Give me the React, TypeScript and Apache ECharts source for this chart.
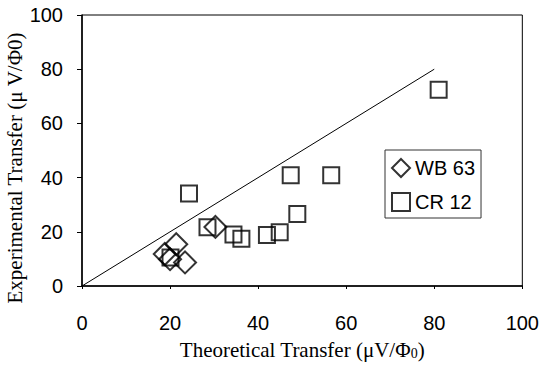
import React, { useEffect, useRef } from "react";
import * as echarts from "echarts";

const xTicks = [0, 20, 40, 60, 80, 100];
const yTicks = [0, 20, 40, 60, 80, 100];
const wb63: [number, number][] = [
  [21.4, 15.4],
  [18.8, 11.8],
  [20.0, 9.9],
  [23.4, 8.7],
  [30.3, 21.8],
];
const cr12: [number, number][] = [
  [24.3, 34.1],
  [47.4, 40.9],
  [56.6, 40.9],
  [81.0, 72.4],
  [48.9, 26.6],
  [44.9, 19.8],
  [42.0, 18.8],
  [28.5, 21.7],
  [34.4, 19.0],
  [36.2, 17.4],
  [20.1, 10.5],
];
const theoryLine: [number, number][] = [
  [0, 0],
  [80, 80],
];
const seriesNames = ["WB 63", "CR 12"];
const yTitle = "Experimental Transfer (μ V/Φ0)";

export default function App() {
  const ref = useRef<HTMLDivElement>(null);
  useEffect(() => {
    if (!ref.current) return;
    const chart = echarts.init(ref.current, null, { renderer: "svg" });
    const sans = "'Liberation Sans', Arial, sans-serif";
    const serif = "'Liberation Serif', 'Times New Roman', serif";
    chart.setOption({
      animation: false,
      backgroundColor: "#fff",
      grid: {
        left: 82,
        right: 19,
        top: 15,
        bottom: 78,
        show: true,
        borderColor: "#000",
        borderWidth: 1,
      },
      legend: {
        orient: "vertical",
        left: 385,
        top: 150,
        padding: [8, 6, 6, 6],
        itemGap: 14,
        itemWidth: 18,
        itemHeight: 18,
        borderColor: "#333",
        borderWidth: 1,
        textStyle: { fontFamily: sans, fontSize: 20, color: "#000", padding: [0, 0, 0, 0] },
        data: [
          { name: seriesNames[0], icon: "diamond" },
          { name: seriesNames[1], icon: "rect" },
        ],
      },
      graphic: [
        {
          type: "text",
          x: 15,
          y: 168,
          rotation: Math.PI / 2,
          style: {
            text: yTitle,
            fontFamily: serif,
            fontSize: 21,
            fill: "#000",
            align: "center",
            verticalAlign: "middle",
          },
        },
      ],
      xAxis: {
        type: "value",
        min: xTicks[0],
        max: xTicks[xTicks.length - 1],
        interval: 20,
        name: "{a|Theoretical Transfer (μV/Φ}{s|0}{a|)}",
        nameLocation: "middle",
        nameGap: 53,
        nameTextStyle: {
          rich: {
            a: { fontFamily: serif, fontSize: 21, color: "#000" },
            s: { fontFamily: serif, fontSize: 14, color: "#000", padding: [7, 0, 0, 0] },
          },
        },
        axisLine: { show: true, lineStyle: { color: "#000", width: 1.5 } },
        axisTick: { show: true, inside: false, length: 3, lineStyle: { color: "#000" } },
        axisLabel: { fontFamily: sans, fontSize: 20, color: "#000", margin: 27 },
        splitLine: { show: false },
      },
      yAxis: {
        type: "value",
        min: yTicks[0],
        max: yTicks[yTicks.length - 1],
        interval: 20,
        axisLine: { show: true, lineStyle: { color: "#000", width: 1.5 } },
        axisTick: { show: true, inside: false, length: 5, lineStyle: { color: "#000" } },
        axisLabel: { fontFamily: sans, fontSize: 20, color: "#000", margin: 19 },
        splitLine: { show: false },
      },
      series: [
        {
          type: "line",
          data: theoryLine,
          symbol: "none",
          lineStyle: { color: "#000", width: 1 },
          silent: true,
        },
        {
          name: seriesNames[0],
          type: "scatter",
          data: wb63,
          symbol: "diamond",
          symbolSize: 22,
          itemStyle: { color: "rgba(0,0,0,0)", borderColor: "#000", borderWidth: 2 },
        },
        {
          name: seriesNames[1],
          type: "scatter",
          data: cr12,
          symbol: "rect",
          symbolSize: 16,
          itemStyle: { color: "rgba(0,0,0,0)", borderColor: "#000", borderWidth: 2 },
        },
      ],
    });
    return () => chart.dispose();
  }, []);
  return <div ref={ref} style={{ width: 542, height: 365, position: "absolute", left: 0, top: 0 }} />;
}
